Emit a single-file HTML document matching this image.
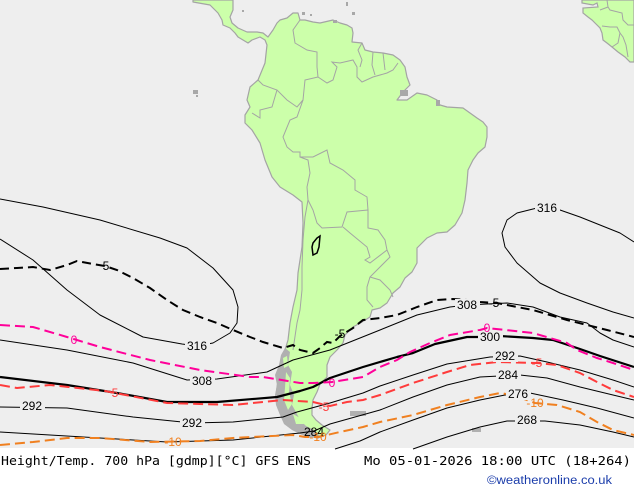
<!DOCTYPE html>
<html><head><meta charset="utf-8"><style>
html,body{margin:0;padding:0;background:#fff;}
svg{display:block;}
</style></head><body>
<svg width="634" height="490" viewBox="0 0 634 490" xmlns="http://www.w3.org/2000/svg">
<rect x="0" y="0" width="634" height="490" fill="#ffffff"/>
<rect x="0" y="0" width="634" height="448" fill="#eeeeee"/>

<!-- Land: Central + South America -->
<polygon fill="#ccffaa" stroke="#a4a4a4" stroke-width="1.2" stroke-linejoin="round" points="193,0 193,2 210,5 213,8 218,13 222,20 223,25 230,28 235,33 238,37 243,40 248,43 252,40 260,37 265,40 267,45 265,63 258,80 250,87 247,100 250,107 245,115 245,123 252,130 260,143 265,160 272,177 280,187 293,195 302,202 303,223 302,247 298,273 297,290 293,307 290,323 288,340 285,350 282,365 278,380 276,395 278,408 283,417 292,423 300,430 308,436 318,438 326,435 330,430 322,425 316,420 312,415 312,408 313,400 317,392 320,384 327,377 327,365 330,357 337,350 343,343 345,335 353,327 362,322 370,317 372,310 380,308 387,303 393,293 400,287 405,278 412,272 417,263 417,248 427,238 437,233 447,232 455,225 462,213 465,200 467,183 468,170 473,160 478,153 485,147 487,137 487,127 483,122 477,118 470,113 463,108 447,107 440,105 437,100 427,95 417,93 407,100 397,100 403,92 410,85 407,77 405,67 400,60 393,55 383,53 373,52 365,50 362,43 352,42 353,33 352,28 347,25 340,23 333,20 320,23 313,22 305,20 300,20 298,13 293,13 287,18 280,20 277,23 273,30 268,37 263,33 257,32 247,32 238,28 232,23 230,17 233,10 233,0"/>

<!-- Chilean archipelago / grey islands -->
<polygon fill="#b0b0b0" points="285,348 290,352 288,365 292,372 290,385 294,395 292,405 296,412 300,420 306,426 314,430 320,436 310,438 300,434 292,430 284,424 280,415 276,405 275,395 277,385 275,375 279,365 281,355"/>
<polygon fill="#ccffaa" points="286,372 290,378 289,392 292,404 288,410 284,400 285,388"/>
<polygon fill="#ccffaa" points="283,358 287,356 288,366 284,368"/>
<polygon fill="#ccffaa" points="293,414 300,418 304,424 296,424"/>
<rect x="350" y="411" width="16" height="5" fill="#b0b0b0"/>
<rect x="472" y="428" width="9" height="4" fill="#b0b0b0"/>
<rect x="193" y="90" width="5" height="4" fill="#a8a8a8"/>
<rect x="196" y="95" width="2" height="2" fill="#a8a8a8"/>
<rect x="242" y="10" width="2" height="2" fill="#a8a8a8"/>
<rect x="302" y="12" width="3" height="3" fill="#a8a8a8"/>
<rect x="310" y="14" width="2" height="2" fill="#a8a8a8"/>
<rect x="346" y="2" width="2" height="4" fill="#a8a8a8"/>
<rect x="352" y="12" width="3" height="3" fill="#a8a8a8"/>
<rect x="333" y="20" width="4" height="3" fill="#a8a8a8"/>
<rect x="400" y="90" width="8" height="6" fill="#a8a8a8"/>
<rect x="436" y="100" width="4" height="6" fill="#a8a8a8"/>

<!-- Africa -->
<polygon fill="#ccffaa" stroke="#a4a4a4" stroke-width="1.2" points="582,0 582,3 593,5 597,3 598,7 583,8 583,13 588,17 592,20 595,23 600,28 602,33 603,40 607,43 612,47 618,52 625,57 630,62 634,62 634,0"/>
<g fill="none" stroke="#a4a4a4" stroke-width="1">
<polyline points="607,0 608,7 600,10"/>
<polyline points="608,7 610,10 622,13 623,20 628,25 634,25"/>
<polyline points="602,26 610,27 617,27 620,33 618,43 612,47"/>
<polyline points="620,33 623,37 626,45 628,57"/>
</g>

<!-- Internal borders -->
<g fill="none" stroke="#a4a4a4" stroke-width="1">
<polyline points="300,20 293,30 295,43 307,50 317,52 317,67 318,77 327,83 333,80 337,67 332,62 340,63 353,60 357,67 357,77 362,82 373,77 387,73 393,70 398,63"/>
<polyline points="362,43 358,50 362,60 360,67"/>
<polyline points="373,52 372,65 375,75"/>
<polyline points="383,53 385,70"/>
<polyline points="258,80 263,85 277,90 287,100 297,107 303,100 305,80 318,77"/>
<polyline points="277,90 272,107 260,110 260,118 252,113"/>
<polyline points="303,100 297,117 290,120 283,137 287,147 293,152 300,152 300,157 313,157 327,150 330,163 343,170 355,180 355,190 367,197 368,210"/>
<polyline points="300,157 308,160 310,173 307,187 308,200"/>
<polyline points="308,200 313,210 317,223 322,228 342,227 347,212 368,210"/>
<polyline points="343,227 350,233 367,247 370,257 365,260 370,263 387,250 385,240 378,230 368,228 368,210"/>
<polyline points="308,200 305,217 303,240 302,267 302,290 300,310 297,323 293,350"/>
<polyline points="387,250 390,257 380,267 370,277 367,287 367,300 373,307"/>
<polyline points="370,277 380,280 390,290 393,297"/>
</g>

<!-- Height contours (thin) -->
<g fill="none" stroke="#000" stroke-width="1" stroke-linejoin="round">
<polyline points="0,199 43,207 100,220 160,238 187,248 213,268 233,290 238,307 237,323 230,333 213,343 197,346 182,344 143,337 100,315 67,290 33,260 0,239"/>
<polyline points="0,340 67,350 133,363 187,380 217,379 267,372 293,360 330,350 380,330 417,315 450,307 467,305 507,303 533,307 560,317 587,323 600,333 613,340 634,347"/>
<polyline points="0,407 67,408 133,417 192,423 233,422 283,417 297,412 330,403 363,393 380,386 413,375 447,364 490,357 520,356 547,362 580,370 613,380 634,387"/>
<polyline points="0,432 100,438 167,442 233,440 300,433 314,431 330,424 380,410 413,397 447,385 480,377 520,375 547,378 580,387 613,395 634,400"/>
<polyline points="335,449 360,441 380,432 413,420 447,408 480,400 505,395 530,393 563,400 597,408 634,418"/>
<polyline points="413,449 447,437 480,427 507,421 545,421 580,425 613,432 634,437"/>
<polyline points="634,242 620,233 600,225 580,217 560,210 547,208 537,208 517,213 507,220 502,233 505,247 517,263 540,283 560,293 587,303 613,312 634,318"/>
</g>
<polygon fill="none" stroke="#000" stroke-width="1.5" points="313,243 317,238 320,236 319,247 317,253 313,255 312,247"/>

<!-- Thick 300 -->
<polyline fill="none" stroke="#000" stroke-width="2.2" stroke-linejoin="round" points="0,377 67,385 117,393 167,402 217,402 277,397 300,391 313,387 330,378 363,367 397,357 413,353 435,344 467,337 490,337 500,336 533,338 553,340 580,349 600,356 634,367"/>

<!-- Temperature contours (dashed) -->
<polyline fill="none" stroke="#000" stroke-width="2" stroke-dasharray="9 5" points="0,269 17,268 33,267 50,270 67,265 77,261 93,264 105,266 117,270 133,278 150,288 167,300 183,310 200,317 217,323 233,330 250,337 263,342 283,348 293,345 300,350 313,353 320,348 327,342 333,343 340,336 353,328 363,320 380,318 397,315 417,307 437,300 453,299 467,300 480,302 497,303 517,307 533,310 550,315 567,320 587,325 607,330 634,337"/>
<polyline fill="none" stroke="#ff0099" stroke-width="2" stroke-dasharray="10 5" points="0,325 33,327 67,337 100,347 150,360 200,370 250,377 263,377 300,383 313,383 332,382 363,377 380,367 397,360 410,352 430,343 450,335 480,330 487,328 533,333 567,343 577,350 597,358 613,363 634,370"/>
<polyline fill="none" stroke="#ff3b3b" stroke-width="2" stroke-dasharray="10 5" points="0,385 17,388 50,385 105,391 167,403 233,405 283,400 313,402 330,406 347,402 363,400 380,395 413,383 447,372 470,365 497,362 537,363 557,365 580,373 597,382 613,390 634,397"/>
<polyline fill="none" stroke="#f08020" stroke-width="2" stroke-dasharray="10 5" points="0,445 33,442 67,438 100,438 150,442 200,441 233,438 293,435 305,437 318,437 340,432 363,427 380,422 413,415 447,405 480,397 500,393 513,395 535,403 557,405 580,412 597,422 613,430 634,435"/>

<!-- Label gaps -->
<g fill="#eeeeee">
<rect x="185" y="340" width="25" height="12"/>
<rect x="190" y="375" width="25" height="12"/>
<rect x="20" y="400" width="25" height="12"/>
<rect x="180" y="417" width="25" height="12"/>
<rect x="535" y="202" width="25" height="12"/>
<rect x="455" y="299" width="25" height="12"/>
<rect x="478" y="331" width="25" height="12"/>
<rect x="493" y="350" width="25" height="12"/>
<rect x="496" y="369" width="25" height="12"/>
<rect x="506" y="388" width="25" height="12"/>
<rect x="515" y="414" width="25" height="12"/>
</g>

<!-- Labels -->
<g font-family="Liberation Sans, DejaVu Sans, sans-serif" font-size="12" text-anchor="middle">
<text x="197" y="350" fill="#000">316</text>
<text x="202" y="385" fill="#000">308</text>
<text x="32" y="410" fill="#000">292</text>
<text x="192" y="427" fill="#000">292</text>
<text x="314" y="436" fill="#000">284</text>
<text x="547" y="212" fill="#000">316</text>
<text x="467" y="309" fill="#000">308</text>
<text x="490" y="341" fill="#000">300</text>
<text x="505" y="360" fill="#000">292</text>
<text x="508" y="379" fill="#000">284</text>
<text x="518" y="398" fill="#000">276</text>
<text x="527" y="424" fill="#000">268</text>
<text x="106" y="270" fill="#000">5</text>
<text x="340" y="338" fill="#000">-5</text>
<text x="494" y="307" fill="#000">-5</text>
<text x="74" y="344" fill="#ff0099">0</text>
<text x="332" y="387" fill="#ff0099">0</text>
<text x="487" y="332" fill="#ff0099">0</text>
<text x="115" y="397" fill="#ff3b3b">5</text>
<text x="324" y="411" fill="#ff3b3b">-5</text>
<text x="537" y="367" fill="#ff3b3b">-5</text>
<text x="173" y="446" fill="#f08020">-10</text>
<text x="318" y="441" fill="#f08020">-10</text>
<text x="535" y="407" fill="#f08020">-10</text>
</g>

<!-- Footer text -->
<text x="1" y="465" font-family="DejaVu Sans Mono, Liberation Mono, monospace" font-size="12.5" fill="#000" textLength="310" lengthAdjust="spacingAndGlyphs">Height/Temp. 700 hPa [gdmp][°C] GFS ENS</text>
<text x="364" y="465" font-family="DejaVu Sans Mono, Liberation Mono, monospace" font-size="12.5" fill="#000" textLength="267" lengthAdjust="spacingAndGlyphs">Mo 05-01-2026 18:00 UTC (18+264)</text>
<text x="487" y="484" font-family="Liberation Sans, DejaVu Sans, sans-serif" font-size="11.5" fill="#1a3caa" textLength="125" lengthAdjust="spacingAndGlyphs">©weatheronline.co.uk</text>
</svg>
</body></html>
